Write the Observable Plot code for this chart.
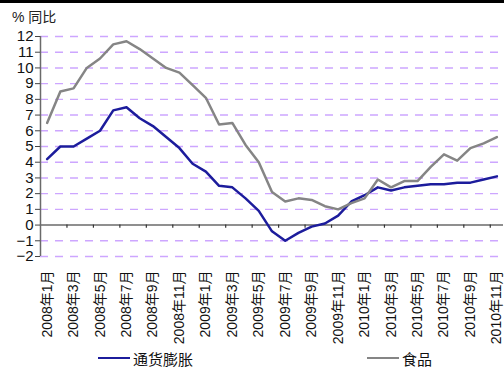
<!DOCTYPE html>
<html>
<head>
<meta charset="utf-8">
<script src="https://cdn.jsdelivr.net/npm/d3@7"></script>
<script src="https://cdn.jsdelivr.net/npm/@observablehq/plot@0.6"></script>
<style>
  body { margin: 0; background: #fff; }
  #wrap { position: relative; width: 504px; height: 370px; overflow: hidden;
          font-family: "Liberation Sans", Arial, "Noto Sans CJK SC", sans-serif; color: #111; }
  #topbar { position: absolute; left: 0; top: 0; width: 504px; height: 3px; background: #000; }
  #chart { position: absolute; left: 0; top: 0; }
  #unit { position: absolute; left: 12px; top: 8px; font-size: 14px; line-height: 18px; color: #222; white-space: nowrap; }
  #legend { position: absolute; left: 0; top: 348px; width: 504px; height: 20px; font-size: 15px; }
  .item { position: absolute; top: 0; display: flex; align-items: center; height: 20px; white-space: nowrap; }
  .swatch { width: 32px; height: 0; border-top: 2.5px solid; margin-right: 3px; }
</style>
</head>
<body>
<div id="wrap">
  <div id="chart"></div>
  <div id="topbar"></div>
  <div id="unit">% 同比</div>
  <div id="legend"></div>
</div>
<script>
// Monthly categories, Jan 2008 – Nov 2010
const months = [
  "2008年1月", "2008年2月", "2008年3月", "2008年4月", "2008年5月", "2008年6月",
  "2008年7月", "2008年8月", "2008年9月", "2008年10月", "2008年11月", "2008年12月",
  "2009年1月", "2009年2月", "2009年3月", "2009年4月", "2009年5月", "2009年6月",
  "2009年7月", "2009年8月", "2009年9月", "2009年10月", "2009年11月", "2009年12月",
  "2010年1月", "2010年2月", "2010年3月", "2010年4月", "2010年5月", "2010年6月",
  "2010年7月", "2010年8月", "2010年9月", "2010年10月", "2010年11月"
];

// Year-on-year change, %
const inflation = [
  4.2, 5.0, 5.0, 5.5, 6.0, 7.3, 7.5, 6.8, 6.3, 5.6, 4.9, 3.9,
  3.4, 2.5, 2.4, 1.7, 0.9, -0.4, -1.0, -0.5, -0.1, 0.1, 0.6, 1.5,
  1.9, 2.4, 2.2, 2.4, 2.5, 2.6, 2.6, 2.7, 2.7, 2.9, 3.1
];
const food = [
  6.5, 8.5, 8.7, 10.0, 10.6, 11.5, 11.7, 11.2, 10.6, 10.0, 9.7, 8.9,
  8.1, 6.4, 6.5, 5.1, 4.0, 2.1, 1.5, 1.7, 1.6, 1.2, 1.0, 1.4,
  1.7, 2.9, 2.4, 2.8, 2.8, 3.7, 4.5, 4.1, 4.9, 5.2, 5.6
];

const seriesNames = ["通货膨胀", "食品"];
const seriesColors = ["#1c1c9c", "#858585"];
const yTicks = [-2, -1, 0, 1, 2, 3, 4, 5, 6, 7, 8, 9, 10, 11, 12];

// long-format rows for the line mark
const rows = months.flatMap((m, i) => [
  {i, v: inflation[i], s: seriesNames[0]},
  {i, v: food[i], s: seriesNames[1]}
]);

const n = months.length;
const xDomain = [-0.5, n - 0.5];
const labelIdx = months.map((_, i) => i).filter(i => i % 2 === 0);
// small tick marks on the zero line between every second category
const boundaries = labelIdx.slice(1).map(i => i - 0.5);

const fontStack = "'Liberation Sans', Arial, 'Noto Sans CJK SC', sans-serif";

const chart = Plot.plot({
  width: 504,
  height: 345,
  marginTop: 36,
  marginBottom: 89,
  marginLeft: 40,
  marginRight: 1,
  style: {fontFamily: fontStack, fontSize: "14px", color: "#111", background: "transparent"},
  x: {domain: xDomain, axis: null},
  y: {domain: [-2, 12], axis: null},
  color: {domain: seriesNames, range: seriesColors},
  marks: [
    Plot.ruleY(yTicks.filter(v => v !== 0), {stroke: "#cda6ff", strokeWidth: 1.4, strokeDasharray: "8,7"}),
    Plot.ruleY([0], {stroke: "#6a6a6a", strokeWidth: 1.5}),
    Plot.ruleX(boundaries, {y1: 0, y2: -0.2, stroke: "#333", strokeWidth: 1.2}),
    Plot.ruleX([xDomain[0]], {stroke: "#6a6a6a", strokeWidth: 1.5}),
    Plot.axisY({ticks: yTicks, tickSize: 5, tickPadding: 2, fontSize: 15, stroke: "#444", label: null}),
    Plot.axisX({ticks: labelIdx, tickFormat: i => months[i], tickRotate: -90, tickSize: 0,
                tickPadding: 14, fontSize: 14, label: null}),
    Plot.line(rows, {x: "i", y: "v", z: "s", stroke: "s", strokeWidth: 2.5, strokeLinejoin: "round"})
  ]
});
document.getElementById("chart").appendChild(chart);

// legend below the plot
const legendPos = [98, 367];
const legend = document.getElementById("legend");
seriesNames.forEach((name, k) => {
  const item = document.createElement("div");
  item.className = "item";
  item.style.left = legendPos[k] + "px";
  const sw = document.createElement("span");
  sw.className = "swatch";
  sw.style.borderTopColor = seriesColors[k];
  const label = document.createElement("span");
  label.textContent = name;
  item.appendChild(sw);
  item.appendChild(label);
  legend.appendChild(item);
});
</script>
</body>
</html>
